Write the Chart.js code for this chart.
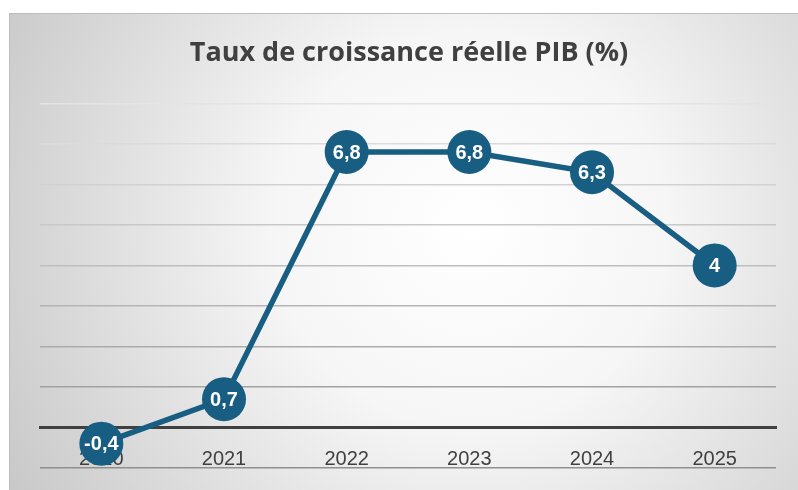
<!DOCTYPE html>
<html>
<head>
<meta charset="utf-8">
<script src="https://cdn.jsdelivr.net/npm/chart.js@4"></script>
<style>
  html, body { margin: 0; padding: 0; background: #fff; }
</style>
</head>
<body>
<canvas id="c" width="798" height="490"></canvas>
<script>
// données du graphique
var annees = ["2020", "2021", "2022", "2023", "2024", "2025"];
var croissance = [-0.4, 0.7, 6.8, 6.8, 6.3, 4];
var titre = "Taux de croissance réelle PIB (%)";

var bleu = "#175e82";

// fond dégradé + cadre
var fondPlugin = {
  id: "fond",
  beforeDraw: function (chart) {
    var ctx = chart.ctx;
    ctx.save();
    ctx.fillStyle = "#fff";
    ctx.fillRect(0, 0, chart.width, chart.height);
    var g = ctx.createRadialGradient(470, 230, 0, 470, 230, 560);
    g.addColorStop(0, "#ffffff");
    g.addColorStop(0.35, "#f6f6f6");
    g.addColorStop(1, "#c4c4c4");
    ctx.fillStyle = g;
    ctx.fillRect(9, 13, chart.width - 9, chart.height - 13);
    ctx.strokeStyle = "#bdbdbd";
    ctx.lineWidth = 1;
    ctx.strokeRect(9.5, 13.5, chart.width, chart.height);
    ctx.restore();
  }
};

// étiquettes dans les cercles
var etiquettes = {
  id: "etiquettes",
  afterDatasetsDraw: function (chart) {
    var ctx = chart.ctx;
    var meta = chart.getDatasetMeta(0);
    ctx.save();
    ctx.fillStyle = "#fff";
    ctx.font = "bold 20px 'Liberation Sans', Arial, sans-serif";
    ctx.textAlign = "center";
    ctx.textBaseline = "middle";
    meta.data.forEach(function (pt, i) {
      var txt = String(croissance[i]).replace(".", ",");
      ctx.fillText(txt, pt.x, pt.y + 1);
    });
    ctx.restore();
  }
};

function couleurGrille(ctx) {
  var v = ctx.tick.value;
  if (v === 0) return "#404040";
  // plus foncé vers le bas
  var t = (8 - v) / 9;
  var c = Math.round(228 - t * 85);
  return "rgb(" + c + "," + c + "," + c + ")";
}

new Chart(document.getElementById("c"), {
  type: "line",
  data: {
    labels: annees,
    datasets: [{
      data: croissance,
      borderColor: bleu,
      borderWidth: 5.5,
      pointRadius: 22,
      pointHoverRadius: 22,
      pointBackgroundColor: bleu,
      pointBorderColor: bleu,
      pointBorderWidth: 0,
      tension: 0,
      clip: false
    }]
  },
  options: {
    responsive: false,
    animation: false,
    devicePixelRatio: 1,
    layout: { padding: { left: 40, right: 20, top: 0, bottom: 22 } },
    plugins: {
      legend: { display: false },
      tooltip: { enabled: false },
      title: {
        display: true,
        text: titre,
        color: "#404040",
        font: { family: "'Open Sans', 'Liberation Sans', sans-serif", size: 27, weight: "bold" },
        padding: { top: 37, bottom: 34 }
      }
    },
    scales: {
      y: {
        min: -1,
        max: 8,
        display: true,
        ticks: { display: false, stepSize: 1 },
        border: { display: false },
        grid: {
          drawTicks: false,
          color: couleurGrille,
          lineWidth: function (ctx) { return ctx.tick.value === 0 ? 3 : 1.5; }
        }
      },
      x: {
        position: { y: 0 },
        offset: true,
        grid: { display: false, drawTicks: false },
        border: { display: true, color: "#404040", width: 3 },
        ticks: {
          color: "#404040",
          padding: 20,
          font: { family: "'Liberation Sans', Arial, sans-serif", size: 20 }
        }
      }
    }
  },
  plugins: [fondPlugin, etiquettes]
});
</script>
</body>
</html>
